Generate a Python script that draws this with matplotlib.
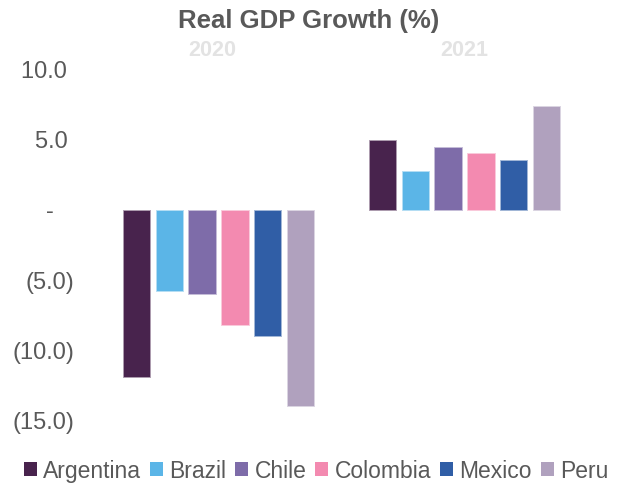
import matplotlib
matplotlib.use("Agg")
import matplotlib.pyplot as plt
from matplotlib.patches import Patch
import numpy as np

years = ["2020", "2021"]
countries = ["Argentina", "Brazil", "Chile", "Colombia", "Mexico", "Peru"]
growth_2020 = [-11.9, -5.8, -6.0, -8.2, -9.0, -14.0]
growth_2021 = [5.0, 2.8, 4.5, 4.05, 3.55, 7.4]
colors = ["#48234D", "#5BB5E7", "#7E6CA9", "#F38AB0", "#305EA6", "#B0A1BE"]
yticks = [10, 5, 0, -5, -10, -15]

plt.rcParams['font.family'] = ['Liberation Sans', 'DejaVu Sans']
text_color = "#595959"

fig = plt.figure(figsize=(6.21, 4.86), dpi=100)
ax = fig.add_axes([95.5 / 621, 1 - 420 / 486, 492 / 621, 350 / 486])

x = np.arange(len(years))
spacing = 0.134
width = 0.11
data = np.array([growth_2020, growth_2021])

def lighten(c, f=0.5):
    rgb = np.array(matplotlib.colors.to_rgb(c))
    return tuple(rgb + (1 - rgb) * f)

for i, (name, col) in enumerate(zip(countries, colors)):
    ax.bar(x + (i - 2.5) * spacing, data[:, i], width=width, color=col,
           edgecolor=lighten(col, 0.55), linewidth=0.7, label=name)

ax.set_xlim(-0.5, 1.5)
ax.set_ylim(-15, 10)

def fmt(v):
    if v == 0:
        return "-   "
    if v < 0:
        return f"({abs(v):.1f})"
    return f"{v:.1f} "

ax.set_yticks(yticks)
ax.set_yticklabels([fmt(v) for v in yticks], fontsize=17, color=text_color)
ax.tick_params(axis='y', length=0, pad=15.5)
ax.set_xticks([])
for s in ax.spines.values():
    s.set_visible(False)

trans = matplotlib.transforms.blended_transform_factory(ax.transData, fig.transFigure)
for xi, yr in zip(x, years):
    ax.text(xi - 0.025 if yr == "2020" else xi, 1 - 50 / 486, yr,
            transform=trans, ha='center', va='center',
            fontsize=15.5, fontweight='bold', color="#E3E3E3")

fig.text(0.497, 1 - 21 / 486, "Real GDP Growth (%)", ha='center', va='center',
         fontsize=18.5, fontweight='bold', color=text_color)

handles = [Patch(facecolor=c, edgecolor='none') for c in colors]
fig.legend(handles, countries, loc='center', bbox_to_anchor=(0.509, 1 - 471 / 486),
           ncol=6, frameon=False, fontsize=16.5, handlelength=0.57, handleheight=0.57,
           handletextpad=0.26, columnspacing=0.4, labelcolor=text_color,
           borderaxespad=0, borderpad=0)

fig.savefig("out.png", dpi=100)
